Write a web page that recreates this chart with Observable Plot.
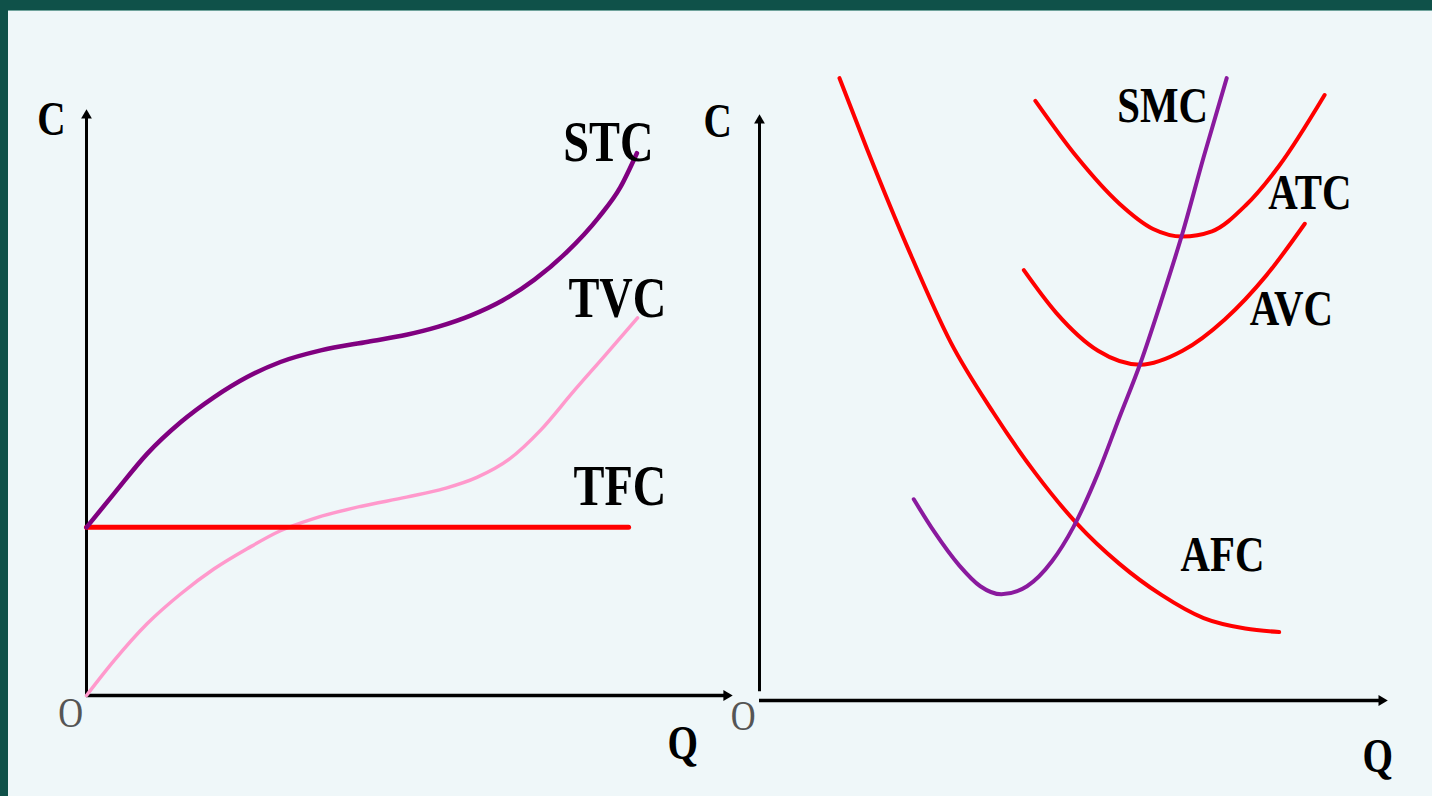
<!DOCTYPE html>
<html><head><meta charset="utf-8">
<script src="https://cdn.jsdelivr.net/npm/d3@7"></script>
<script src="https://cdn.jsdelivr.net/npm/@observablehq/plot@0.6"></script>
<style>
html,body{margin:0;padding:0;width:1432px;height:796px;overflow:hidden;background:#0f5149;}
#panel{position:absolute;left:8px;top:10px;width:1424px;height:786px;background:#eff7f9;border-top:1px solid #6fa39c;}
.chart{position:absolute;left:0;top:0;}
</style></head><body>
<div id="panel"></div>
<div id="left" class="chart"></div>
<div id="right" class="chart"></div>
<script>
// ---- Left panel: total cost curves, [Q, C] ----
const stc = [[0,2.90],[0.43,3.48],[0.95,4.17],[1.47,4.71],[1.99,5.14],[2.51,5.49],[3.03,5.75],[3.66,5.95],[4.4,6.10],[5.0,6.22],[5.5,6.36],[6.0,6.55],[6.5,6.81],[7.0,7.17],[7.5,7.64],[8.0,8.24],[8.34,8.76],[8.60,9.35]];
const tvc = [[0,0],[0.43,0.60],[0.95,1.24],[1.47,1.75],[1.99,2.18],[2.51,2.53],[3.03,2.84],[3.55,3.05],[4.28,3.26],[5.0,3.42],[5.6,3.57],[6.1,3.76],[6.6,4.07],[7.1,4.58],[7.6,5.23],[8.1,5.86],[8.61,6.51]];
const tfc = [[0,2.90],[8.47,2.90]];
const leftLabels = [["STC",7.45,9.22],["TVC",7.53,6.53],["TFC",7.61,3.28]];
const leftAxisLabels = [["C",-0.77,9.66,"bold"],["Q",9.08,-1.1,"bold"],["O",-0.44,-0.55,"normal"]];
const leftAxisEnds = {x:10.0, y:10.0};

// ---- Right panel: average / marginal cost curves, [Q, C] ----
const afc = [[1.25,10.73],[1.68,9.51],[2.33,7.77],[2.99,6.17],[3.65,4.97],[4.31,3.92],[4.96,3.05],[5.62,2.36],[6.28,1.82],[6.94,1.42],[7.59,1.24],[8.12,1.18]];
const smc = [[2.41,3.47],[2.73,2.91],[3.12,2.33],[3.45,1.97],[3.78,1.83],[4.18,1.97],[4.57,2.40],[4.90,2.98],[5.29,3.92],[5.62,4.87],[5.95,5.81],[6.28,6.90],[6.61,8.06],[6.94,9.37],[7.30,10.73]];
const atc = [[4.31,10.34],[4.96,9.37],[5.62,8.57],[6.15,8.13],[6.61,8.00],[7.07,8.09],[7.59,8.53],[8.12,9.22],[8.83,10.44]];
const avc = [[4.13,7.42],[4.64,6.68],[5.29,6.03],[5.95,5.79],[6.61,6.03],[7.27,6.57],[7.92,7.33],[8.52,8.22]];
const rightLabels = [["SMC",5.59,9.97],["ATC",7.95,8.47],["AVC",7.66,6.48],["AFC",6.58,2.24]];
const rightAxisLabels = [["C",-0.875,9.72,"bold"],["Q",9.42,-1.24,"bold"],["O",-0.45,-0.5,"normal"]];
const rightAxisEnds = {x:9.72, y:10.0, y0:0.15};

const SERIF = "'Liberation Serif','Times New Roman',serif";
const SQUEEZE = 0.8;

function curve(data, stroke, w) {
  return Plot.line(data, {x: d => d[0], y: d => d[1], stroke, strokeWidth: w, curve: "monotone-x", strokeLinecap: "round"});
}
function axes(ends) {
  return [
    Plot.ruleX([0], {y1: ends.y0 || 0, y2: ends.y, stroke: "#000", strokeWidth: 3}),
    Plot.ruleY([0], {x1: 0, x2: ends.x, stroke: "#000", strokeWidth: 3.5}),
    Plot.dot([[0, ends.y]], {x: d => d[0], y: d => d[1], symbol: "triangle", r: 4, fill: "#000", stroke: null}),
    Plot.dot([[ends.x, 0]], {x: d => d[0], y: d => d[1], symbol: "triangle", r: 4, fill: "#000", stroke: null, rotate: 90})
  ];
}
function labels(arr, size) {
  return Plot.text(arr, {x: d => d[1], y: d => d[2], text: d => d[0], textAnchor: "start", lineAnchor: "bottom",
    fontFamily: SERIF, fontWeight: "bold", fontSize: size, fill: "#000"});
}
function axisLabels(arr) {
  return [
    Plot.text(arr.filter(d => d[3] === "bold"), {x: d => d[1], y: d => d[2], text: d => d[0], textAnchor: "start", lineAnchor: "bottom",
      fontFamily: SERIF, fontWeight: "bold", fontSize: 49, fill: "#000"}),
    Plot.text(arr.filter(d => d[3] !== "bold"), {x: d => d[1], y: d => d[2], text: d => d[0], textAnchor: "start", lineAnchor: "bottom",
      fontFamily: SERIF, fontWeight: "normal", fontSize: 43, fill: "#555"})
  ];
}
function squeeze(svg) {
  svg.querySelectorAll("text").forEach(t => {
    let tr = t.getAttribute("transform") || "";
    const x = t.getAttribute("x"), y = t.getAttribute("y");
    if (x != null || y != null) { tr += ` translate(${x || 0},${y || 0})`; t.removeAttribute("x"); t.removeAttribute("y"); }
    t.setAttribute("transform", tr + ` scale(${SQUEEZE},1)`);
  });
  return svg;
}

const common = {width: 1432, height: 796, x: {domain: [0, 10], axis: null}, y: {domain: [0, 10], axis: null},
  style: {background: "transparent", overflow: "visible", maxWidth: "none"}};

const left = Plot.plot({...common, marginLeft: 86, marginRight: 706, marginTop: 115, marginBottom: 101,
  marks: [
    ...axes(leftAxisEnds),
    curve(tvc, "#ff99cc", 3.5),
    curve(tfc, "#ff0000", 5),
    curve(stc, "#800080", 4.5),
    labels(leftLabels, 58),
    ...axisLabels(leftAxisLabels)
  ]});
const right = Plot.plot({...common, marginLeft: 759, marginRight: 33, marginTop: 120, marginBottom: 96,
  marks: [
    ...axes(rightAxisEnds),
    curve(afc, "#ff0000", 4),
    curve(atc, "#ff0000", 4),
    curve(avc, "#ff0000", 4),
    curve(smc, "#8a1a9e", 4),
    labels(rightLabels, 51),
    ...axisLabels(rightAxisLabels)
  ]});
document.getElementById("left").appendChild(squeeze(left));
document.getElementById("right").appendChild(squeeze(right));
</script>
</body></html>
